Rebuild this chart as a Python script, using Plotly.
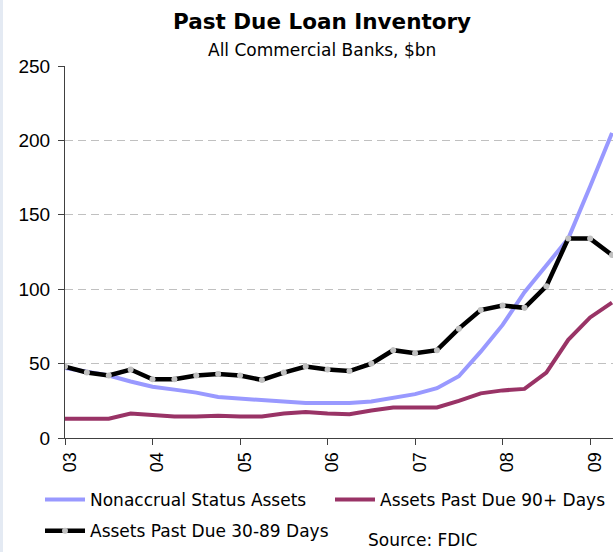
import plotly.graph_objects as go

# ---- data (quarterly, 2003Q1 .. 2009Q2), $bn ----
quarters = ["03Q1", "03Q2", "03Q3", "03Q4", "04Q1", "04Q2", "04Q3", "04Q4",
            "05Q1", "05Q2", "05Q3", "05Q4", "06Q1", "06Q2", "06Q3", "06Q4",
            "07Q1", "07Q2", "07Q3", "07Q4", "08Q1", "08Q2", "08Q3", "08Q4",
            "09Q1", "09Q2"]
nonaccrual = [47, 44.5, 42, 38, 34.5, 32.5, 30.5, 27.5, 26.5, 25.5, 24.5, 23.5,
              23.5, 23.5, 24.5, 27, 29.5, 33.5, 41.5, 58, 76, 98, 116, 134, 169, 205]
past_due_90 = [13, 13, 13, 16.5, 15.5, 14.5, 14.5, 15, 14.5, 14.5, 16.5, 17.5,
               16.5, 16, 18.5, 20.5, 20.5, 20.5, 25, 30, 32, 33, 44, 66, 81, 91]
past_due_30_89 = [48, 44, 42, 46, 39.5, 39.5, 42, 43, 42, 39, 44, 48,
                  46, 45, 50, 59, 57, 59, 73.5, 86, 89, 87.5, 102, 134, 134, 123]
year_tick_labels = ["03", "04", "05", "06", "07", "08", "09"]
y_ticks = [0, 50, 100, 150, 200, 250]

x = list(range(len(quarters)))
year_tick_pos = [i for i, q in enumerate(quarters) if q.endswith("Q1")]

# ---- pixel geometry helpers ----
W, H = 613, 552
L, R, T, B = 65, 0, 66, 114
PW, PH = W - L - R, H - T - B


def px_x(p):
    return (p - L) / PW


def px_y(p):
    return (H - B - p) / PH


TXT = "DejaVu Sans"
NUM = "Liberation Sans"
LEG_FONT = dict(family=TXT, size=17, color="black")

fig = go.Figure()
fig.add_trace(go.Scatter(
    x=x, y=nonaccrual, name="Nonaccrual Status Assets", mode="lines",
    legend="legend", legendgroup="a", legendrank=1,
    line=dict(color="#9999ff", width=4)))
fig.add_trace(go.Scatter(
    x=x, y=past_due_90, name="Assets Past Due 90+ Days", mode="lines",
    legend="legend2", legendgroup="b",
    line=dict(color="#993366", width=4)))
fig.add_trace(go.Scatter(
    x=x, y=past_due_30_89, name="Assets Past Due 30-89 Days", mode="lines+markers",
    legend="legend", legendgroup="c", legendrank=2,
    line=dict(color="#000000", width=4.5),
    marker=dict(color="#c0c0c0", size=6, line=dict(width=0))))

fig.update_layout(
    width=W, height=H, autosize=False,
    margin=dict(l=L, r=R, t=T, b=B, pad=0),
    paper_bgcolor="white", plot_bgcolor="white",
    font=dict(family=TXT, size=17, color="black"),
    showlegend=True,
    legend=dict(orientation="v", x=px_x(40), xanchor="left",
                y=px_y(482), yanchor="top", font=LEG_FONT,
                itemwidth=40, tracegroupgap=6, borderwidth=0,
                bgcolor="rgba(0,0,0,0)"),
    legend2=dict(orientation="v", x=px_x(330), xanchor="left",
                 y=px_y(482), yanchor="top", font=LEG_FONT,
                 itemwidth=40, tracegroupgap=6, borderwidth=0,
                 bgcolor="rgba(0,0,0,0)"),
    xaxis=dict(range=[0, (len(quarters) - 1) * PW / (PW - 1)],
               tickmode="array", tickvals=year_tick_pos, ticktext=year_tick_labels,
               tickangle=-90, ticks="outside", ticklen=6, tickcolor="#404040",
               tickfont=dict(family=NUM, size=18, color="black"),
               ticklabelshift=5,
               showline=True, linecolor="#404040", linewidth=1,
               showgrid=False, zeroline=False, fixedrange=True),
    yaxis=dict(range=[0, 250], tickmode="array", tickvals=y_ticks,
               ticks="outside", ticklen=6, tickcolor="#404040",
               tickfont=dict(family=NUM, size=19, color="black"),
               ticklabelstandoff=4,
               showline=True, linecolor="#404040", linewidth=1,
               showgrid=True, gridcolor="#c0c0c0", gridwidth=1,
               griddash="8px,5px", zeroline=False, fixedrange=True),
    annotations=[
        dict(text="<b>Past Due Loan Inventory</b>", xref="paper", yref="paper",
             x=px_x(322), y=px_y(21.5), xanchor="center", yanchor="middle",
             showarrow=False, font=dict(family=TXT, size=21.5, color="black")),
        dict(text="All Commercial Banks, $bn", xref="paper", yref="paper",
             x=px_x(322), y=px_y(50), xanchor="center", yanchor="middle",
             showarrow=False, font=dict(family=TXT, size=17, color="black")),
        dict(text="Source: FDIC", xref="paper", yref="paper",
             x=px_x(422.5), y=px_y(552), xanchor="center", yanchor="bottom",
             showarrow=False, font=dict(family=TXT, size=17, color="black")),
    ],
    shapes=[
        dict(type="rect", xref="paper", yref="paper",
             x0=px_x(0), x1=px_x(3), y0=px_y(H), y1=px_y(0),
             fillcolor="#e4eaf3", line=dict(width=0), layer="below"),
    ],
)

fig.write_html("out.html")
